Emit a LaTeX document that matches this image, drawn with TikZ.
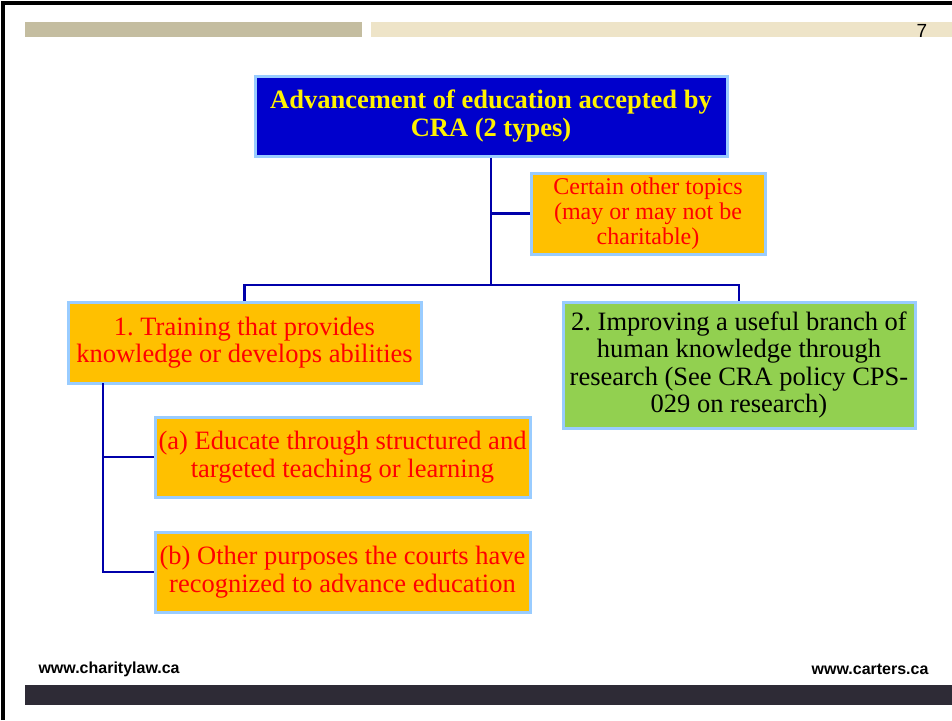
\documentclass[tikz,border=0pt]{standalone}
\usepackage{fontspec}
\setmainfont{Liberation Serif}
\newfontfamily\footfont{Liberation Sans}
\frenchspacing
\definecolor{rootblue}{HTML}{0000CC}
\definecolor{edgeblue}{HTML}{99CCFF}
\definecolor{linkblue}{HTML}{0000AA}
\definecolor{boxorange}{HTML}{FFC000}
\definecolor{boxgreen}{HTML}{92D050}
\definecolor{bartan}{HTML}{C4BDA0}
\definecolor{barbeige}{HTML}{EEE4C8}
\definecolor{bardark}{HTML}{2E2B36}
\begin{document}
\begin{tikzpicture}[x=1pt,y=-1pt,
  box/.style={draw=edgeblue, line width=3pt, align=center, inner sep=0pt,
    font=\fontsize{26.5}{27.5}\selectfont},
  topic/.style={box, fill=boxorange, text=red},
  link/.style={draw=linkblue, line width=2.5pt}]
\useasboundingbox (0,0) rectangle (952,720);
\fill[white] (0,0) rectangle (952,720);
\draw[line width=4pt] (3,720) -- (3,3) -- (952,3);
\fill[bartan] (25,22) rectangle (362,37);
\fill[barbeige] (371,22) rectangle (952,37);
\node[font=\footfont\fontsize{19}{21}\selectfont] (page) at (922,31) {7};
\node[box, fill=rootblue, text=yellow, minimum width=472pt, minimum height=80pt,
  font=\fontsize{26.5}{28}\selectfont\bfseries] (root) at (491,116)
  {Advancement of education accepted by\\CRA (2 types)};
\node[topic, minimum width=234pt, minimum height=81pt,
  font=\fontsize{24}{25}\selectfont] (other) at (648,213.5)
  {Certain other topics\\(may or may not be\\charitable)};
\node[topic, minimum width=353pt, minimum height=81pt] (train) at (244.5,342.5)
  {1. Training that provides\\knowledge or develops abilities};
\node[box, fill=boxgreen, minimum width=352pt, minimum height=126pt] (research) at (739,365)
  {2. Improving a useful branch of\\human knowledge through\\research (See CRA policy CPS-\\029 on research)};
\node[topic, minimum width=375pt, minimum height=80pt] (teach) at (342.5,457)
  {(a) Educate through structured and\\targeted teaching or learning};
\node[topic, minimum width=375pt, minimum height=80pt] (courts) at (342.5,572)
  {(b) Other purposes the courts have\\recognized to advance education};
\coordinate (fork) at (491,285);
\coordinate (trunk) at (103,383);
\draw[link] (root.south) -- (fork);
\draw[link] (root.south |- other.west) -- (other.west);
\draw[link] (train.north) |- (fork) -| (research.north);
\draw[link] (trunk) |- (teach.west);
\draw[link] (trunk) |- (courts.west);
\node[anchor=west, font=\footfont\fontsize{16}{18}\selectfont\bfseries] (left) at (35,669) {www.charitylaw.ca};
\node[anchor=east, font=\footfont\fontsize{16}{18}\selectfont\bfseries] (right) at (932,669) {www.carters.ca};
\fill[bardark] (25,685) rectangle (952,705);
\end{tikzpicture}
\end{document}
